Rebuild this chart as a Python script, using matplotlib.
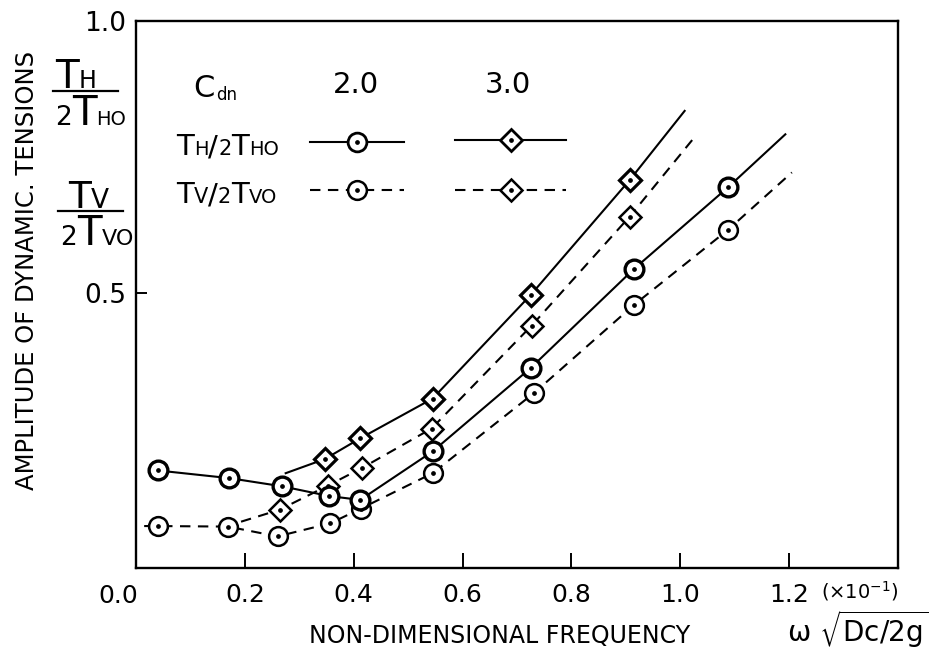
import matplotlib
matplotlib.use("Agg")
import matplotlib.pyplot as plt
from matplotlib.lines import Line2D

plt.rcParams['font.family'] = ['DejaVu Sans']
plt.rcParams['mathtext.default'] = 'regular'

# ---------------- data ----------------
# Cdn = 2.0, T_H/2T_HO (solid, circles) -- last point: end of curve (no marker)
th20_x = [0.040, 0.171, 0.268, 0.355, 0.412, 0.545, 0.725, 0.915, 1.088, 1.193]
th20_y = [0.175, 0.161, 0.146, 0.128, 0.121, 0.210, 0.363, 0.545, 0.695, 0.792]
# Cdn = 2.0, T_V/2T_VO (dashed, circles) -- first/last: curve ends (no marker)
tv20_x = [0.015, 0.040, 0.169, 0.260, 0.357, 0.413, 0.545, 0.731, 0.915, 1.088, 1.205]
tv20_y = [0.073, 0.073, 0.072, 0.054, 0.078, 0.105, 0.170, 0.317, 0.479, 0.617, 0.722]
# Cdn = 3.0, T_H/2T_HO (solid, diamonds) -- first/last: curve ends (no marker)
th30_x = [0.275, 0.347, 0.412, 0.545, 0.725, 0.907, 1.008]
th30_y = [0.170, 0.196, 0.234, 0.307, 0.497, 0.708, 0.835]
# Cdn = 3.0, T_V/2T_VO (dashed, diamonds) -- first/last: curve ends (no marker)
tv30_x = [0.193, 0.264, 0.352, 0.416, 0.543, 0.727, 0.907, 1.028]
tv30_y = [0.081, 0.103, 0.147, 0.180, 0.252, 0.441, 0.641, 0.789]

xticks = [0.2, 0.4, 0.6, 0.8, 1.0, 1.2]
xtick_labels = ['0.2', '0.4', '0.6', '0.8', '1.0', '1.2']
yticks = [0.5, 1.0]
ytick_labels = ['0.5', '1.0']

# ---------------- figure ----------------
W, H = 931, 656
fig = plt.figure(figsize=(W / 100, H / 100), dpi=100)
fx = lambda px: px / W
fy = lambda py: 1 - py / H

ax = fig.add_axes([fx(136), fy(568), fx(898) - fx(136), fy(21) - fy(568)])
ax.set_xlim(0, 1.4)
ax.set_ylim(-0.004, 1.0)
for s in ax.spines.values():
    s.set_linewidth(1.7)

ax.set_xticks(xticks)
ax.set_xticklabels(xtick_labels, fontsize=18)
ax.set_yticks(yticks)
ax.set_yticklabels(ytick_labels, fontsize=19)
ax.tick_params(axis='x', direction='in', length=10.5, width=1.4, pad=11)
ax.tick_params(axis='y', direction='in', length=8, width=1.4, pad=7)

lw = 1.5
dash = (0, (5.0, 3.6))


def series(x, y, ls, marker, ms, mew, every, z):
    ax.plot(x, y, color='black', lw=lw, linestyle=ls, marker=marker, ms=ms,
            mfc='white', mec='black', mew=mew, markevery=every, zorder=z)
    ax.plot(x, y, linestyle='none', marker='o', ms=2.4, color='black',
            markevery=every, zorder=z + 0.1)


series(tv30_x, tv30_y, dash, 'D', 11, 1.8, slice(1, -1), 3)
series(th30_x, th30_y, '-', 'D', 11, 2.3, slice(1, -1), 4)
series(tv20_x, tv20_y, dash, 'o', 13.5, 1.8, slice(1, -1), 5)
series(th20_x, th20_y, '-', 'o', 13.5, 2.4, slice(0, -1), 6)

# ---------------- legend (drawn as a small table) ----------------
renderer = fig.canvas.get_renderer()


def run_text(x, y, parts):
    for s, size in parts:
        t = fig.text(fx(x), fy(y), s, fontsize=size, ha='left', va='baseline')
        x += t.get_window_extent(renderer).width


run_text(193, 97, [('C', 22)])
run_text(216, 100, [('dn', 12)])
fig.text(fx(356), fy(93), '2.0', fontsize=21, ha='center', va='baseline')
fig.text(fx(508), fy(93), '3.0', fontsize=21, ha='center', va='baseline')

run_text(176, 155, [('T', 21), ('H', 14), ('/', 21), ('2', 15), ('T', 21), ('HO', 14)])
run_text(176, 203, [('T', 21), ('V', 15), ('/', 21), ('2', 15), ('T', 21), ('VO', 14)])


def legend_handle(y, ls, marker, mew):
    x0, x1 = 310, 404
    if marker == 'D':
        x0, x1 = 455, 566
    xm = (x0 + x1) / 2
    fig.add_artist(Line2D([fx(x0), fx(x1)], [fy(y), fy(y)], color='black',
                          lw=lw, linestyle=ls))
    fig.add_artist(Line2D([fx(xm)], [fy(y)], marker=marker,
                          ms=13.5 if marker == 'o' else 11, mfc='white',
                          mec='black', mew=mew, linestyle='none'))
    fig.add_artist(Line2D([fx(xm)], [fy(y)], marker='o', ms=2.4,
                          color='black', linestyle='none'))


legend_handle(142, '-', 'o', 2.0)
legend_handle(140, '-', 'D', 2.0)
legend_handle(190, dash, 'o', 1.8)
legend_handle(190, dash, 'D', 1.8)

# ---------------- axis titles ----------------
fig.text(fx(27), fy(270), 'AMPLITUDE OF DYNAMIC. TENSIONS', fontsize=17.5,
         rotation=90, ha='center', va='center')

# fractions T_H / 2T_HO and T_V / 2T_VO
run_text(55, 88, [('T', 28), ('H', 17)])
fig.add_artist(Line2D([fx(53), fx(118)], [fy(91), fy(91)], color='black', lw=1.6))
run_text(55, 125, [('2', 19), ('T', 29), ('HO', 14)])

run_text(68, 208, [('T', 27), ('V', 19)])
fig.add_artist(Line2D([fx(58), fx(123)], [fy(211), fy(211)], color='black', lw=1.6))
run_text(60, 245, [('2', 19), ('T', 29), ('VO', 16)])

fig.text(fx(118), fy(603), '0.0', fontsize=18, ha='center', va='baseline')
fig.text(fx(860), fy(598), r'($\times$10$^{-1}$)', fontsize=14, ha='center',
         va='baseline')
fig.text(fx(500), fy(643), 'NON-DIMENSIONAL FREQUENCY', fontsize=17,
         ha='center', va='baseline')
fig.text(fx(928), fy(642), r'$\omega\ \sqrt{Dc/2g}$', fontsize=20,
         ha='right', va='baseline')

fig.savefig('out.png', dpi=100)
